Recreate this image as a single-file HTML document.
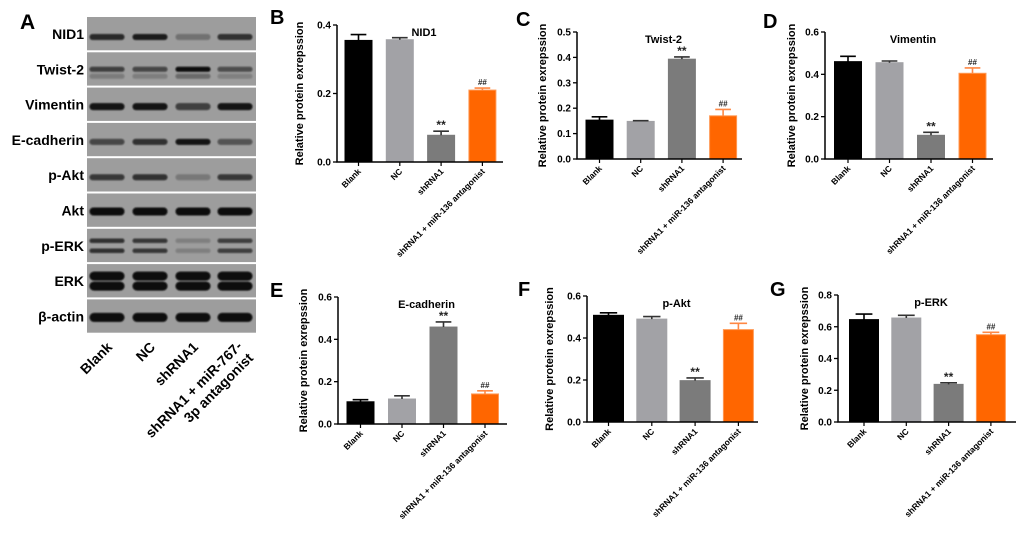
<!DOCTYPE html>
<html><head><meta charset="utf-8"><style>
html,body{margin:0;padding:0;background:#fff;}
svg{display:block;font-family:"Liberation Sans",Arial,sans-serif;}
</style></head><body>
<svg id="fig" width="1020" height="541" viewBox="0 0 1020 541" xmlns="http://www.w3.org/2000/svg">
<defs>
<filter id="blur1" x="-20%" y="-50%" width="140%" height="200%"><feGaussianBlur stdDeviation="0.9"/></filter>
</defs>
<g id="blot"></g>
<g id="charts"></g>
</svg>
<script>
// ---------- Chart data ----------
const categories = ["Blank", "NC", "shRNA1", "shRNA1 + miR-136 antagonist"];
const nid1Values = [0.355, 0.357, 0.078, 0.210];
const nid1Errors = [0.017, 0.006, 0.012, 0.006];
const nid1Ticks = [0.0, 0.2, 0.4];
const twistValues = [0.153, 0.148, 0.393, 0.170];
const twistErrors = [0.013, 0.003, 0.009, 0.025];
const twistTicks = [0.0, 0.1, 0.2, 0.3, 0.4, 0.5];
const vimValues = [0.460, 0.455, 0.112, 0.405];
const vimErrors = [0.025, 0.008, 0.014, 0.025];
const vimTicks = [0.0, 0.2, 0.4, 0.6];
const ecadValues = [0.105, 0.118, 0.458, 0.142];
const ecadErrors = [0.010, 0.015, 0.024, 0.015];
const ecadTicks = [0.0, 0.2, 0.4, 0.6];
const paktValues = [0.508, 0.490, 0.197, 0.440];
const paktErrors = [0.012, 0.012, 0.013, 0.030];
const paktTicks = [0.0, 0.2, 0.4, 0.6];
const perkValues = [0.645, 0.655, 0.237, 0.550];
const perkErrors = [0.035, 0.017, 0.010, 0.015];
const perkTicks = [0.0, 0.2, 0.4, 0.6, 0.8];
const markers = ["", "", "**", "##"];

const NS = "http://www.w3.org/2000/svg";
function mk(tag, attrs, parent, text) {
  const e = document.createElementNS(NS, tag);
  for (const k in attrs) e.setAttribute(k, attrs[k]);
  if (text !== undefined) e.textContent = text;
  parent.appendChild(e);
  return e;
}
const fills = ["#000000", "#a2a2a6", "#7b7b7b", "#ff6600"];
const strokes = ["#000000", "#a2a2a6", "#7b7b7b", "#ff9955"];
const errCol = ["#000000", "#333333", "#333333", "#ff8844"];

function drawChart(cfg, values, errors, ticks) {
  const root = document.getElementById("charts");
  const g = mk("g", {}, root);
  
  
  const yMax = ticks[ticks.length - 1];
  const y = v => cfg.y0 - (v / yMax) * (cfg.y0 - cfg.yTop);
  const x = i => cfg.x0 + i * cfg.step;
  const pl = mk("text", {x: cfg.lx, y: cfg.ly, "font-size": 20, "font-weight": "bold"}, g, cfg.letter);
  
  
  const t = mk("text", {x: (cfg.ax + cfg.right) / 2 + 4, y: cfg.yTop + 11, "font-size": 11, "font-weight": "bold", "text-anchor": "middle"}, g, cfg.title);
  
  
  const yt = mk("text", {x: 0, y: 0, "font-size": 11, "font-weight": "bold", "text-anchor": "middle",
    transform: `translate(${cfg.ytx},${(cfg.y0 + cfg.yTop) / 2}) rotate(-90)`}, g, "Relative protein exrepssion");
  
  
  values.forEach((v, i) => {
    const cx = x(i);
    const b = mk("rect", {x: cx - cfg.bw / 2 + 0.5, y: y(v), width: cfg.bw - 1, height: cfg.y0 - y(v), fill: fills[i], stroke: strokes[i], "stroke-width": 1}, g);
    
    
    const top = y(v + errors[i]);
    const el = mk("path", {d: `M${cx},${y(v)}V${top}M${cx - cfg.bw * 0.28},${top}H${cx + cfg.bw * 0.28}`, stroke: errCol[i], "stroke-width": 1.6, fill: "none"}, g);
    
    
    if (markers[i]) {
      const isStar = markers[i] === "**";
      const m = mk("text", {x: cx, y: top - (isStar ? 2 : 3), "font-size": isStar ? 12 : 8, "font-weight": "bold", "text-anchor": "middle", fill: "#222"}, g, markers[i]);
      
      
    }
    mk("line", {x1: cx, x2: cx, y1: cfg.y0, y2: cfg.y0 + 4, stroke: "#000", "stroke-width": 1.2}, g);
    const lbl = mk("text", {x: 0, y: 0, "font-size": 8.5, "font-weight": "bold", "text-anchor": "end",
      transform: `translate(${cx + 3},${cfg.y0 + 10}) rotate(-45)`}, g, categories[i]);
    
    
  });
  const ax = mk("path", {d: `M${cfg.ax},${cfg.yTop}V${cfg.y0}H${cfg.right}`, stroke: "#000", "stroke-width": 1.5, fill: "none"}, g);
  
  
  ticks.forEach(tv => {
    mk("line", {x1: cfg.ax - 4, x2: cfg.ax, y1: y(tv), y2: y(tv), stroke: "#000", "stroke-width": 1.3}, g);
    const tl = mk("text", {x: cfg.ax - 6, y: y(tv) + 3.5, "font-size": 10, "font-weight": "bold", "text-anchor": "end"}, g, tv.toFixed(1));
    
    
  });
}

drawChart({name: "chart-nid1", letter: "B", lx: 270, ly: 24, title: "NID1", ax: 337, y0: 162, yTop: 25, right: 503, x0: 358.5, step: 41.3, bw: 28, ytx: 303}, nid1Values, nid1Errors, nid1Ticks);
drawChart({name: "chart-twist2", letter: "C", lx: 516, ly: 26, title: "Twist-2", ax: 577, y0: 159, yTop: 32, right: 742, x0: 599.5, step: 41.2, bw: 28, ytx: 546}, twistValues, twistErrors, twistTicks);
drawChart({name: "chart-vimentin", letter: "D", lx: 763, ly: 28, title: "Vimentin", ax: 825, y0: 159, yTop: 32, right: 993, x0: 848, step: 41.5, bw: 28, ytx: 795}, vimValues, vimErrors, vimTicks);
drawChart({name: "chart-ecadherin", letter: "E", lx: 270, ly: 297, title: "E-cadherin", ax: 338, y0: 424, yTop: 297, right: 507, x0: 360.5, step: 41.5, bw: 28, ytx: 307}, ecadValues, ecadErrors, ecadTicks);
drawChart({name: "chart-pakt", letter: "F", lx: 518, ly: 296, title: "p-Akt", ax: 587, y0: 422, yTop: 296, right: 758, x0: 608.5, step: 43.3, bw: 31, ytx: 553}, paktValues, paktErrors, paktTicks);
drawChart({name: "chart-perk", letter: "G", lx: 770, ly: 296, title: "p-ERK", ax: 838, y0: 422, yTop: 295, right: 1016, x0: 864, step: 42.3, bw: 30, ytx: 808}, perkValues, perkErrors, perkTicks);

// ---------- Western blot ----------
const blotProteins = ["NID1", "Twist-2", "Vimentin", "E-cadherin", "p-Akt", "Akt", "p-ERK", "ERK", "β-actin"];
const blotIntensity = [
  [0.8, 0.9, 0.3, 0.75],
  [0.65, 0.6, 1, 0.55],
  [0.95, 0.95, 0.65, 0.95],
  [0.6, 0.75, 0.95, 0.5],
  [0.7, 0.75, 0.25, 0.7],
  [1, 1, 1, 1],
  [0.75, 0.7, 0.2, 0.65],
  [1, 1, 1, 1],
  [1, 1, 1, 1]
];
const blotLanes = ["Blank", "NC", "shRNA1"];
(function () {
  const g = document.getElementById("blot");
  const a = mk("text", {x: 20, y: 29, "font-size": 21, "font-weight": "bold"}, g, "A");
  
  
  const top = 17, h = 35.3, left = 87, right = 256;
  const lanes = [107, 150, 193, 235];
  const bandSpec = [[[20], 6], [[17, 24], 5], [[19], 7], [[19], 6], [[19], 6], [[18], 8], [[12, 22], 4.5], [[12, 22], 9], [[18], 9]];
  blotProteins.forEach((p, r) => {
    const y0 = top + r * h;
    const s = mk("rect", {x: left, y: y0, width: right - left, height: h - 2, fill: "#9d9d9d"}, g);
    
    
    const lab = mk("text", {x: 84, y: y0 + 22, "font-size": 14, "font-weight": "bold", "text-anchor": "end"}, g, p);
    
    
    const [offs, th] = bandSpec[r];
    offs.forEach((o, k) => {
      lanes.forEach((lx, i) => {
        let op = blotIntensity[r][i];
        if (r === 1 && k === 1) op *= 0.35;
        const bd = mk("rect", {x: lx - 17.5, y: y0 + o - th / 2, width: 35, height: th, rx: th / 2, fill: "#080808", opacity: op, filter: "url(#blur1)"}, g);
        
        
      });
    });
  });
  blotLanes.forEach((n, i) => {
    const t = mk("text", {x: 0, y: 0, "font-size": 14, "font-weight": "bold", "text-anchor": "end", transform: `translate(${lanes[i] + 6},${348}) rotate(-45)`}, g, n);
    
    
  });
  const t1 = mk("text", {x: 0, y: 0, "font-size": 14, "font-weight": "bold", "text-anchor": "end", transform: `translate(${lanes[3] + 8},${347}) rotate(-45)`}, g, "shRNA1 + miR-767-");
  
  
  const t2 = mk("text", {x: 0, y: 0, "font-size": 14, "font-weight": "bold", "text-anchor": "end", transform: `translate(${lanes[3] + 19},${359}) rotate(-45)`}, g, "3p antagonist");
  
  
})();
</script>
</body></html>
